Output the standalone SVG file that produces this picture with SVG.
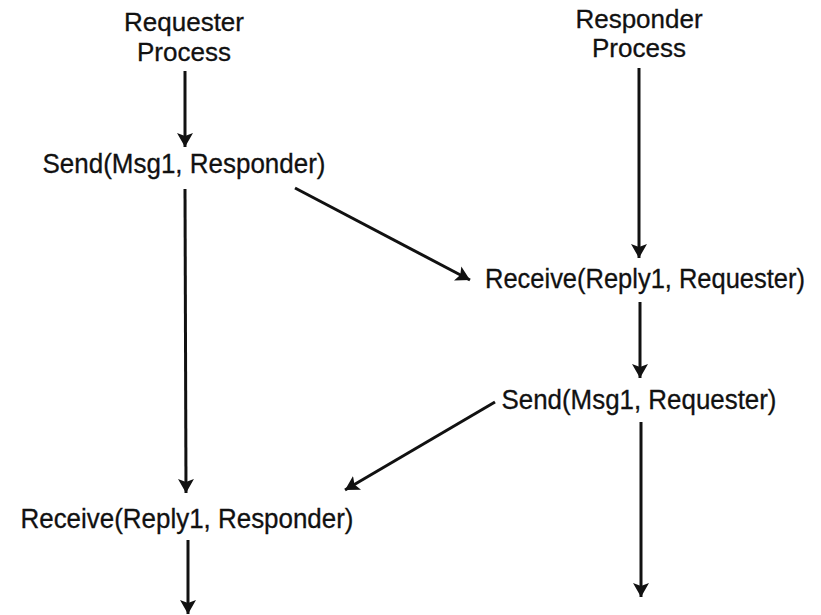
<svg xmlns="http://www.w3.org/2000/svg" width="821" height="615" viewBox="0 0 821 615">
<style>
text{font-family:"Liberation Sans",Arial,sans-serif;fill:#111;stroke:#111;stroke-width:0.3;text-anchor:middle}
.t{font-size:26px}
.l{font-size:27px}
.c line{stroke:#111;stroke-width:3;marker-end:url(#ah)}
</style>
<defs>
<marker id="ah" markerUnits="userSpaceOnUse" markerWidth="16" markerHeight="16" refX="14" refY="8" orient="auto">
<path d="M0,0 L14,8 L0,16 L3,8 z" fill="#111"/>
</marker>
</defs>
<rect width="821" height="615" fill="#fff"/>
<g id="requester"><text class="t" x="184" y="31">Requester</text><text class="t" x="184" y="61">Process</text></g>
<g id="responder"><text class="t" x="639" y="28">Responder</text><text class="t" x="639" y="57">Process</text></g>
<g id="send1"><text class="l" x="184" y="173" textLength="283" lengthAdjust="spacingAndGlyphs">Send(Msg1, Responder)</text></g>
<g id="recv1"><text class="l" x="645" y="288" textLength="320" lengthAdjust="spacingAndGlyphs">Receive(Reply1, Requester)</text></g>
<g id="send2"><text class="l" x="639" y="409" textLength="275" lengthAdjust="spacingAndGlyphs">Send(Msg1, Requester)</text></g>
<g id="recv2"><text class="l" x="187" y="528" textLength="333" lengthAdjust="spacingAndGlyphs">Receive(Reply1, Responder)</text></g>
<g id="connectors" class="c">
<line x1="185" y1="71" x2="185" y2="147"/>
<line x1="185" y1="189" x2="186" y2="493"/>
<line x1="188" y1="540" x2="188" y2="614"/>
<line x1="295" y1="188" x2="470" y2="280"/>
<line x1="639" y1="68" x2="639" y2="258"/>
<line x1="640" y1="302" x2="640" y2="378"/>
<line x1="641" y1="422" x2="641" y2="597"/>
<line x1="495" y1="402" x2="345" y2="490"/>
</g>
</svg>
